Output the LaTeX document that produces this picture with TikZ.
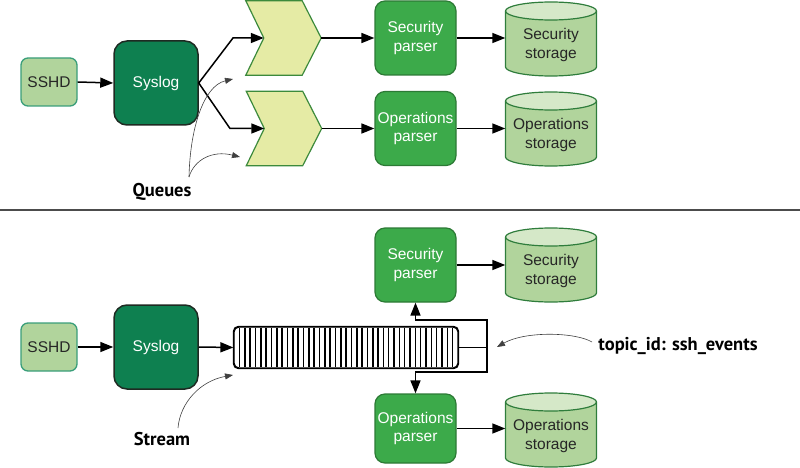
\documentclass[tikz,border=0pt]{standalone}
\usepackage{fontspec}
\setmainfont{Liberation Sans}
\newfontfamily\labelfont{PT Sans}
\usetikzlibrary{arrows.meta}
\definecolor{sshdfill}{HTML}{B1D49C}
\definecolor{sshdborder}{HTML}{3A9E7A}
\definecolor{sysfill}{HTML}{0E8050}
\definecolor{sysborder}{HTML}{1E2A22}
\definecolor{parfill}{HTML}{3CAA4A}
\definecolor{parborder}{HTML}{2C7A35}
\definecolor{stbody}{HTML}{B1D49C}
\definecolor{sttop}{HTML}{D5E8C8}
\definecolor{stborder}{HTML}{2F7D3C}
\definecolor{qfill}{HTML}{E5EBA5}
\definecolor{qborder}{HTML}{3C8A3C}
% cylinder drawn around a named coordinate (the text centre)
\newcommand\cyl[1]{%
  \fill[stbody] ([shift={(-45.5pt,34pt)}]#1) -- ([shift={(-45.5pt,-22pt)}]#1)
    arc[start angle=180,end angle=360,x radius=45.5pt,y radius=9pt]
    -- ([shift={(45.5pt,34pt)}]#1)
    arc[start angle=0,end angle=180,x radius=45.5pt,y radius=9pt] -- cycle;
  \fill[sttop] ([yshift=34pt]#1) ellipse[x radius=45.5pt,y radius=9pt];
  \draw[stborder,line width=1.2pt] ([shift={(-45.5pt,34pt)}]#1) -- ([shift={(-45.5pt,-22pt)}]#1)
    arc[start angle=180,end angle=360,x radius=45.5pt,y radius=9pt]
    -- ([shift={(45.5pt,34pt)}]#1)
    arc[start angle=0,end angle=180,x radius=45.5pt,y radius=9pt];
  \draw[stborder,line width=1.2pt] ([shift={(-45.5pt,34pt)}]#1)
    arc[start angle=180,end angle=360,x radius=45.5pt,y radius=9pt];
}
\newcommand\chevron[1]{%
  \draw[qborder,fill=qfill,line width=1.2pt,line join=miter]
    (#1.north west) -- ([xshift=-19pt]#1.north east) -- (#1.east)
    -- ([xshift=-19pt]#1.south east) -- (#1.south west)
    -- ([xshift=18pt]#1.west) -- cycle;
}
\tikzset{
  base/.style={font=\fontsize{15.5}{18.5}\selectfont, align=center, inner sep=0pt},
  sshd/.style={base, rounded corners=7pt, draw=sshdborder, fill=sshdfill, line width=1.3pt,
    minimum width=56pt, minimum height=48pt, text=black!85},
  syslog/.style={base, rounded corners=13pt, draw=sysborder, fill=sysfill, line width=1.5pt,
    minimum width=84pt, minimum height=84pt, text=white},
  parser/.style={base, rounded corners=10pt, draw=parborder, fill=parfill, line width=1.2pt,
    minimum width=81pt, minimum height=74pt, text=white},
  store/.style={base, minimum width=91pt, text=black!85},
  qbox/.style={inner sep=0pt, minimum width=75pt, minimum height=74pt},
  conn/.style={-{Triangle[length=13pt,width=10pt]}, line width=1.5pt, black},
  note/.style={-{Triangle[length=8pt,width=6pt]}, line width=0.6pt, black!75},
  lbl/.style={font=\labelfont\bfseries\fontsize{18.5}{22}\selectfont, inner sep=0pt},
}
\begin{document}
\begin{tikzpicture}[x=1pt,y=-1pt]
\useasboundingbox (0,0) rectangle (800,468);
% ---------- top ----------
\node[sshd] (sshd1) at (49,82) {SSHD};
\node[syslog] (sys1) at (156,83) {Syslog};
\node[qbox] (q1) at (283.5,38) {};
\node[qbox] (q2) at (284,128.5) {};
\chevron{q1}
\chevron{q2}
\node[parser] (sp1) at (415.5,38) {Security\\parser};
\node[parser] (op1) at (415.5,128.5) {Operations\\parser};
\coordinate (ss1c) at (551,45);
\coordinate (os1c) at (551,135);
\cyl{ss1c}\cyl{os1c}
\node[store] (ss1) at (ss1c) {Security\\storage};
\node[store] (os1) at (os1c) {Operations\\storage};
\draw[conn] (sshd1.east) -- (sys1.west);
\draw[conn] (sys1.east) -- (233,38) -- ([xshift=18pt]q1.west);
\draw[conn] (sys1.east) -- (230,128.5) -- ([xshift=18pt]q2.west);
\draw[conn] (q1.east) -- (sp1.west);
\draw[conn] (q2.east) -- (op1.west);
\draw[conn] (sp1.east) -- (sp1.east -| ss1.west);
\draw[conn] (op1.east) -- (op1.east -| os1.west);
\node[lbl] (queues) at (162,192) {Queues};
\draw[note] (189,177) .. controls (190,130) and (203,86) .. (233,79);
\draw[note] (189,177) .. controls (194,160) and (212,150) .. (240,157);
% separator
\draw[black!70,line width=1.5pt] (0,210) -- (800,210);
% ---------- bottom ----------
\node[sshd] (sshd2) at (49,347) {SSHD};
\node[syslog] (sys2) at (156,347) {Syslog};
\node[draw=black, fill=white, line width=1.2pt, rounded corners=5pt, minimum width=224pt,
  minimum height=41pt, inner sep=0pt] (stream) at (346,347.5) {};
\foreach \i in {0,...,40} {
  \draw[black,line width=1.5pt] ({239.5+\i*5.33},327.6) -- ({239.5+\i*5.33},367.4);
}
\draw[black, line width=1.2pt, rounded corners=5pt] (stream.north west) rectangle (stream.south east);
\node[parser] (sp2) at (415.5,265) {Security\\parser};
\node[parser, minimum height=69pt] (op2) at (415.5,428.5) {Operations\\parser};
\coordinate (ss2c) at (551,271);
\coordinate (os2c) at (551,436);
\cyl{ss2c}\cyl{os2c}
\node[store] (ss2) at (ss2c) {Security\\storage};
\node[store] (os2) at (os2c) {Operations\\storage};
\coordinate (j) at (487,347.5);
\draw[conn] (sshd2.east) -- (sys2.west);
\draw[conn] (sys2.east) -- (stream.west);
\draw[line width=1.5pt] (stream.east) -- (j);
\draw[conn] (j) -- (487,320) -| (sp2.south);
\draw[conn] (j) -- (487,372) -| (op2.north);
\draw[conn] (sp2.east) -- (sp2.east -| ss2.west);
\draw[conn] (op2.east) -- (op2.east -| os2.west);
\node[lbl] (streamlbl) at (162,439) {Stream};
\draw[note] (178,428) .. controls (180,403) and (200,381) .. (233,375);
\node[lbl] (topic) at (678,346) {topic\_id: ssh\_events};
\draw[note] (592,342) .. controls (575,332) and (525,331) .. (497,347);
\end{tikzpicture}
\end{document}
